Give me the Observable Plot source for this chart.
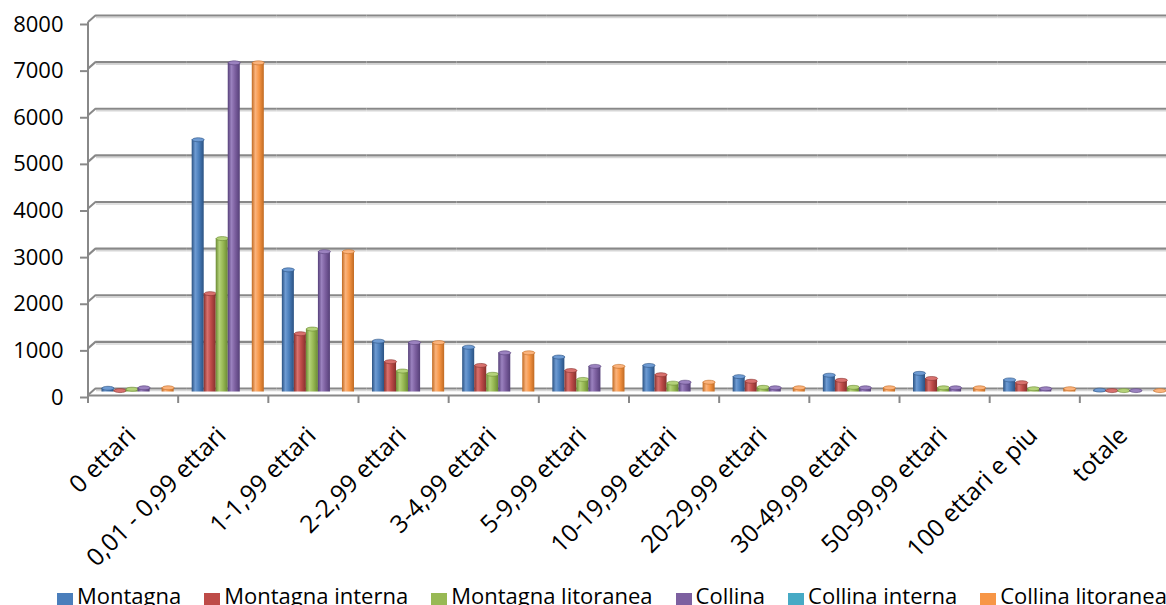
<!DOCTYPE html>
<html lang="it">
<head>
<meta charset="utf-8">
<title>Aziende per classe di superficie</title>
<script src="https://cdn.jsdelivr.net/npm/d3@7"></script>
<script src="https://cdn.jsdelivr.net/npm/@observablehq/plot@0.6"></script>
<style>
  html, body { margin: 0; padding: 0; background: #fff; }
  #chart { position: relative; width: 1166px; height: 605px; overflow: hidden; font-family: "Open Sans", sans-serif; }
  #chart svg { position: absolute; left: 0; top: 0; overflow: visible; }
  #legend { position: absolute; left: 57px; top: 584px; display: flex; gap: 23px; font-size: 22px; line-height: 22px; white-space: nowrap; color: #000; }
  #legend .item { display: flex; align-items: flex-start; }
  #legend .sw { width: 16px; height: 15px; margin-top: 9px; margin-right: 4px; }
</style>
</head>
<body>
<div id="chart"><div id="legend"></div></div>
<script>
// Classi di superficie (asse x)
const categories = [
  "0 ettari", "0,01 - 0,99 ettari", "1-1,99 ettari", "2-2,99 ettari",
  "3-4,99 ettari", "5-9,99 ettari", "10-19,99 ettari", "20-29,99 ettari",
  "30-49,99 ettari", "50-99,99 ettari", "100 ettari e piu", "totale"
];

// Serie (zone altimetriche)
const seriesNames = [
  "Montagna", "Montagna interna", "Montagna litoranea",
  "Collina", "Collina interna", "Collina litoranea"
];

// Valori per serie, nell'ordine delle classi
const montagna          = [80, 5410, 2620, 1090, 960, 750, 570, 330, 360, 400, 260, 40];
const montagnaInterna   = [30, 2110, 1250,  650, 570, 460, 370, 230, 250, 290, 200, 30];
const montagnaLitoranea = [60, 3290, 1350,  450, 380, 270, 190, 100, 100,  90,  70, 30];
const collina           = [90, 7060, 3010, 1060, 840, 550, 210,  90,  90,  90,  70, 30];
const collinaInterna    = [ 0,    0,    0,    0,   0,   0,   0,   0,   0,   0,   0,  0];
const collinaLitoranea  = [90, 7060, 3010, 1060, 840, 550, 210,  90,  90,  90,  70, 30];

const seriesValues = [montagna, montagnaInterna, montagnaLitoranea, collina, collinaInterna, collinaLitoranea];

// Tick dell'asse y
const yTicks = [0, 1000, 2000, 3000, 4000, 5000, 6000, 7000, 8000];

// Colori: base, ombra e riflesso dei cilindri
const colors = ["#4a7ebb", "#be4b48", "#98b954", "#7d60a0", "#46aac5", "#f79646"];
const darks  = ["#2b5282", "#86302d", "#6a8a33", "#553f78", "#2d7f96", "#c06a22"];
const lights = ["#6e9bd3", "#d8716e", "#b4d279", "#9b82bf", "#6cc2d8", "#fbb37c"];

const rows = categories.flatMap((c, i) =>
  seriesNames.map((s, j) => ({category: c, series: s, value: seriesValues[j][i]}))
);
const drawn = rows.filter(d => d.value > 0);

// Simbolo ellittico per la faccia superiore dei cilindri
const ellipseSymbol = {
  draw(context, size) {
    const rx = Math.sqrt(size / Math.PI), ry = rx * 0.33, k = 0.5523;
    context.moveTo(-rx, 0);
    context.bezierCurveTo(-rx, -ry * k, -rx * k, -ry, 0, -ry);
    context.bezierCurveTo(rx * k, -ry, rx, -ry * k, rx, 0);
    context.bezierCurveTo(rx, ry * k, rx * k, ry, 0, ry);
    context.bezierCurveTo(-rx * k, ry, -rx, ry * k, -rx, 0);
    context.closePath();
  }
};

const barMarks = seriesNames.flatMap((s, j) => {
  const data = drawn.filter(d => d.series === s);
  return [
    Plot.barY(data, {fx: "category", x: "series", y: "value", dx: 4.5, dy: -3.5, fill: `url(#cyl-${j})`}),
    Plot.dot(data, {fx: "category", x: "series", y: "value", dx: 4.5, dy: -3.5, r: 6, symbol: ellipseSymbol,
      fill: lights[j], stroke: darks[j], strokeWidth: 0.6})
  ];
});

const plot = Plot.plot({
  width: 1166,
  height: 575,
  marginLeft: 88,
  marginRight: -4,
  marginTop: 22,
  marginBottom: 180,
  style: {fontFamily: "'Open Sans', sans-serif", color: "#000", background: "transparent"},
  fx: {domain: categories, padding: 0, round: false, label: null},
  x: {domain: seriesNames, paddingInner: 0, paddingOuter: 0.75, round: false, axis: null},
  y: {domain: [0, 8000], label: null, axis: null},
  marks: [
    // pareti di fondo: griglia con ombra
    Plot.ruleY(yTicks, {dx: 8, dy: -5, stroke: "#d6d6d6", strokeWidth: 1.5}),
    Plot.ruleY(yTicks, {dx: 8, dy: -7, stroke: "#888888", strokeWidth: 2.2}),
    // bordo anteriore del pavimento
    Plot.ruleY([0], {stroke: "#888888", strokeWidth: 2.2}),
    Plot.axisY(yTicks, {anchor: "left", tickSize: 8, tickPadding: 17, fontSize: 22, dy: 2,
      tickFormat: d => String(d), stroke: "#888888", strokeWidth: 2, label: null}),
    ...barMarks,
    Plot.axisFx({anchor: "bottom", tickRotate: -45, tickSize: 0, tickPadding: 36, fontSize: 24.5, dx: -2, label: null})
  ]
});

const svg = d3.select(plot);

// Gradienti orizzontali per l'effetto cilindro
const defs = svg.insert("defs", ":first-child");
colors.forEach((c, j) => {
  const g = defs.append("linearGradient").attr("id", `cyl-${j}`).attr("x1", 0).attr("x2", 1).attr("y1", 0).attr("y2", 0);
  g.append("stop").attr("offset", "0%").attr("stop-color", darks[j]);
  g.append("stop").attr("offset", "30%").attr("stop-color", lights[j]);
  g.append("stop").attr("offset", "60%").attr("stop-color", c);
  g.append("stop").attr("offset", "100%").attr("stop-color", darks[j]);
});

// Asse verticale, raccordi con la parete di fondo e tacche tra le classi
const y = plot.scale("y");
const fx = plot.scale("fx");
const x0 = fx.apply(categories[0]);
const deco = svg.append("g").attr("stroke", "#888888").attr("stroke-width", 2).attr("fill", "none");
deco.append("line").attr("x1", x0).attr("x2", x0).attr("y1", y.apply(0) + 8).attr("y2", y.apply(8000));
yTicks.forEach(v => {
  deco.append("line").attr("x1", x0).attr("y1", y.apply(v)).attr("x2", x0 + 8).attr("y2", y.apply(v) - 7);
});
const bounds = categories.map(c => fx.apply(c)).concat([fx.apply(categories[categories.length - 1]) + fx.bandwidth]);
bounds.forEach(b => {
  deco.append("line").attr("x1", b).attr("x2", b).attr("y1", y.apply(0)).attr("y2", y.apply(0) + 8);
});

document.getElementById("chart").prepend(plot);

// Legenda
const legend = d3.select("#legend");
seriesNames.forEach((s, j) => {
  const item = legend.append("div").attr("class", "item");
  item.append("span").attr("class", "sw").style("background", colors[j]);
  item.append("span").text(s);
});
</script>
</body>
</html>
